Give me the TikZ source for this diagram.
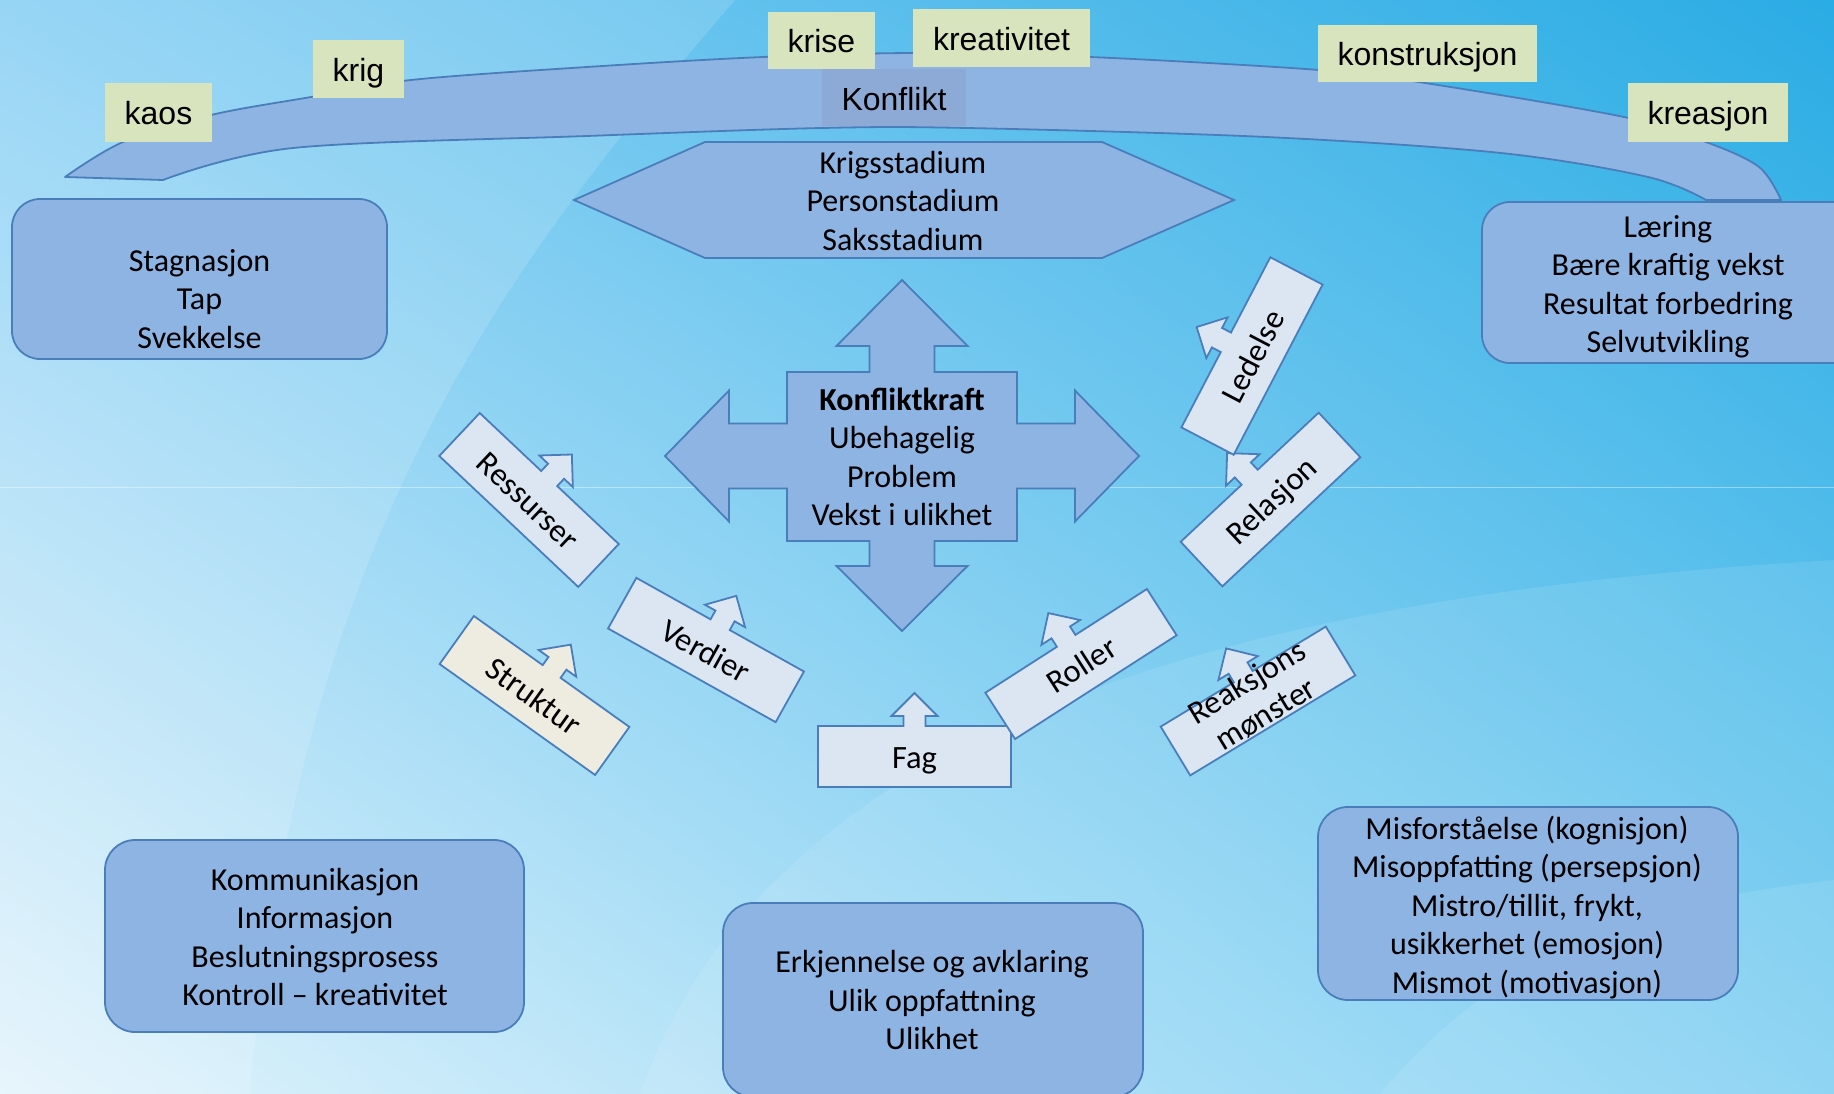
\documentclass[tikz,border=0pt]{standalone}
\usepackage{fontspec}
\setmainfont{Carlito}
\newfontfamily\arialf{Liberation Sans}
\usetikzlibrary{shadings}
\definecolor{boxfill}{RGB}{142,180,227}
\definecolor{boxline}{RGB}{74,126,187}
\definecolor{tagfill}{RGB}{215,228,189}
\definecolor{konffill}{RGB}{141,169,213}
\definecolor{callfill}{RGB}{220,230,242}
\definecolor{strukfill}{RGB}{238,236,225}
\definecolor{bgul}{RGB}{135,207,244}
\definecolor{bgur}{RGB}{42,172,228}
\definecolor{bgll}{RGB}{228,244,252}
\definecolor{bglr}{RGB}{118,204,241}
\tikzset{
  rbox/.style={draw=boxline, fill=boxfill, line width=1.8pt, rounded corners=28pt, inner sep=0pt},
  tag/.style={fill=tagfill, inner sep=0pt, text height=25pt, text depth=0pt, font=\arialf\fontsize{32}{38}\selectfont},
  txt/.style={align=center, font=\fontsize{32}{38.5}\selectfont, inner sep=0pt},
  calltxt/.style={align=center, font=\fontsize{32.5}{37}\selectfont, inner sep=0pt, text height=24pt, text depth=0pt},
  shapeline/.style={draw=boxline, fill=boxfill, line width=1.8pt, line join=miter},
  callbox/.style={draw=boxline, line width=1.8pt, line join=miter},
}
\newcommand\mycallout[9]{%
  \begin{scope}[shift={(#2,#3)}, rotate=#4]
    \draw[callbox, fill=#7] ({-#5/2},{#6/2}) -- ({-#5/2},{-#6/2}) -- (-11,{-#6/2}) -- (-11,{-#6/2-10})
      -- (-23,{-#6/2-10}) -- (0,{-#6/2-33}) -- (23,{-#6/2-10}) -- (11,{-#6/2-10}) -- (11,{-#6/2})
      -- ({#5/2},{-#6/2}) -- ({#5/2},{#6/2}) -- cycle;
  \end{scope}
  \node[calltxt, rotate=#4, #9] (#1) at (#2,#3) {#8};
}
\begin{document}
\begin{tikzpicture}[x=1pt, y=-1pt]
\useasboundingbox (0,0) rectangle (1834,1094);
\clip (0,0) rectangle (1834,1094);
% background
\shade[upper left=bgul, upper right=bgur, lower left=bgll, lower right=bglr] (0,0) rectangle (1834,1094);
\fill[white, opacity=0.14] (0,0) -- (735,0) .. controls (520,250) and (300,520) .. (250,1094) -- (0,1094) -- cycle;
\fill[white, opacity=0.10] (640,1094) .. controls (760,760) and (1150,600) .. (1834,560) -- (1834,1094) -- cycle;
\fill[white, opacity=0.10] (1380,1094) .. controls (1500,950) and (1650,900) .. (1834,880) -- (1834,1094) -- cycle;
\draw[white, opacity=0.4, line width=0.8pt] (0,487) -- (1834,487);

% curved band
\draw[shapeline, line join=round] plot[smooth, tension=0.55] coordinates {(65,177) (123,142) (211,115) (311,97) (411,80) (587,67) (763,57) (920,53) (1090,57) (1319,70) (1425,83) (1624,117) (1706,142) (1759,167) (1781,200)}
  --plot[smooth, tension=0.55] coordinates {(1706,200) (1648,177) (1501,153) (1266,137) (967,128) (822,128) (587,136) (293,148) (163,180)} -- cycle;

% Konflikt label
\node[fill=konffill, inner sep=0pt, minimum width=144, minimum height=57, text height=25pt, text depth=0pt, font=\arialf\fontsize{32}{38}\selectfont] (konflikt) at (894,98) {Konflikt};

% tags
\node[tag, minimum width=107, minimum height=59] (kaos) at (158.5,112.5) {kaos};
\node[tag, minimum width=91, minimum height=58] (krig) at (358.5,69) {krig};
\node[tag, minimum width=107, minimum height=57] (krise) at (821.5,40.5) {krise};
\node[tag, minimum width=177, minimum height=58] (kreativitet) at (1001.5,38) {kreativitet};
\node[tag, minimum width=219, minimum height=57] (konstruksjon) at (1427.5,53.5) {konstruksjon};
\node[tag, minimum width=160, minimum height=59] (kreasjon) at (1708,112.5) {kreasjon};

% hexagon
\draw[shapeline] (574,200) -- (705,142) -- (1102,142) -- (1234,200) -- (1102,258) -- (705,258) -- cycle;
\node[txt] (stadier) at (903,201) {Krigsstadium\\Personstadium\\Saksstadium};

% side boxes
\node[rbox, minimum width=375, minimum height=160] (stagbox) at (199.5,279) {};
\node[txt] (stag) at (199.5,299) {Stagnasjon\\Tap\\Svekkelse};
\node[rbox, minimum width=400, minimum height=161] (laerbox) at (1682,282.5) {};
\node[txt] (laer) at (1668,286.5) {Læring\\Bære kraftig vekst\\Resultat forbedring\\Selvutvikling};

% cross
\draw[shapeline] (902,280) -- (967.5,346) -- (934.5,346) -- (934.5,372) -- (1017,372) -- (1017,423.5) -- (1075,423.5) -- (1075,390.5) -- (1139,456) -- (1075,521.5) -- (1075,488.5) -- (1017,488.5) -- (1017,541) -- (934.5,541) -- (934.5,566) -- (967.5,566) -- (902,631) -- (836.5,566) -- (869.5,566) -- (869.5,541) -- (787,541) -- (787,488.5) -- (729,488.5) -- (729,521.5) -- (665,456) -- (729,390.5) -- (729,423.5) -- (787,423.5) -- (787,372) -- (869.5,372) -- (869.5,346) -- (836.5,346) -- cycle;
\node[txt] (kraft) at (902,457) {\textbf{Konfliktkraft}\\Ubehagelig\\Problem\\Vekst i ulikhet};

% callouts
\mycallout{ressurser}{529}{500}{-43.3}{191}{59}{callfill}{Ressurser}{}
\mycallout{verdier}{706}{650}{-29.2}{192}{58}{callfill}{Verdier}{}
\mycallout{struktur}{534.5}{695.5}{-35.5}{191}{59}{strukfill}{Struktur}{}
\mycallout{fag}{914.5}{756.5}{0}{193}{61}{callfill}{Fag}{}
\mycallout{roller}{1081}{664}{32.7}{192}{55}{callfill}{Roller}{}
\mycallout{reaksjon}{1258}{701}{31.2}{193}{57}{callfill}{Reaksjons\\mønster}{text height=61pt, text depth=10pt}
\mycallout{relasjon}{1270.5}{499.5}{43.1}{189}{61}{callfill}{Relasjon}{}
\mycallout{ledelse}{1252}{356}{62.4}{192}{59}{callfill}{Ledelse}{}

% bottom boxes
\node[rbox, rounded corners=30pt, minimum width=419, minimum height=192] (kombox) at (314.5,936) {};
\node[txt] (kom) at (315,937) {Kommunikasjon\\Informasjon\\Beslutningsprosess\\Kontroll -- kreativitet};
\node[rbox, rounded corners=30pt, minimum width=420, minimum height=194] (erkbox) at (933,1000) {};
\node[txt] (erk) at (932,1000) {Erkjennelse og avklaring\\Ulik oppfattning\\Ulikhet};
\node[rbox, rounded corners=30pt, minimum width=420, minimum height=193] (misbox) at (1528,903.5) {};
\node[txt] (mis) at (1527,907.5) {Misforståelse (kognisjon)\\Misoppfatting (persepsjon)\\Mistro/tillit, frykt,\\usikkerhet (emosjon)\\Mismot (motivasjon)};
\end{tikzpicture}
\end{document}
